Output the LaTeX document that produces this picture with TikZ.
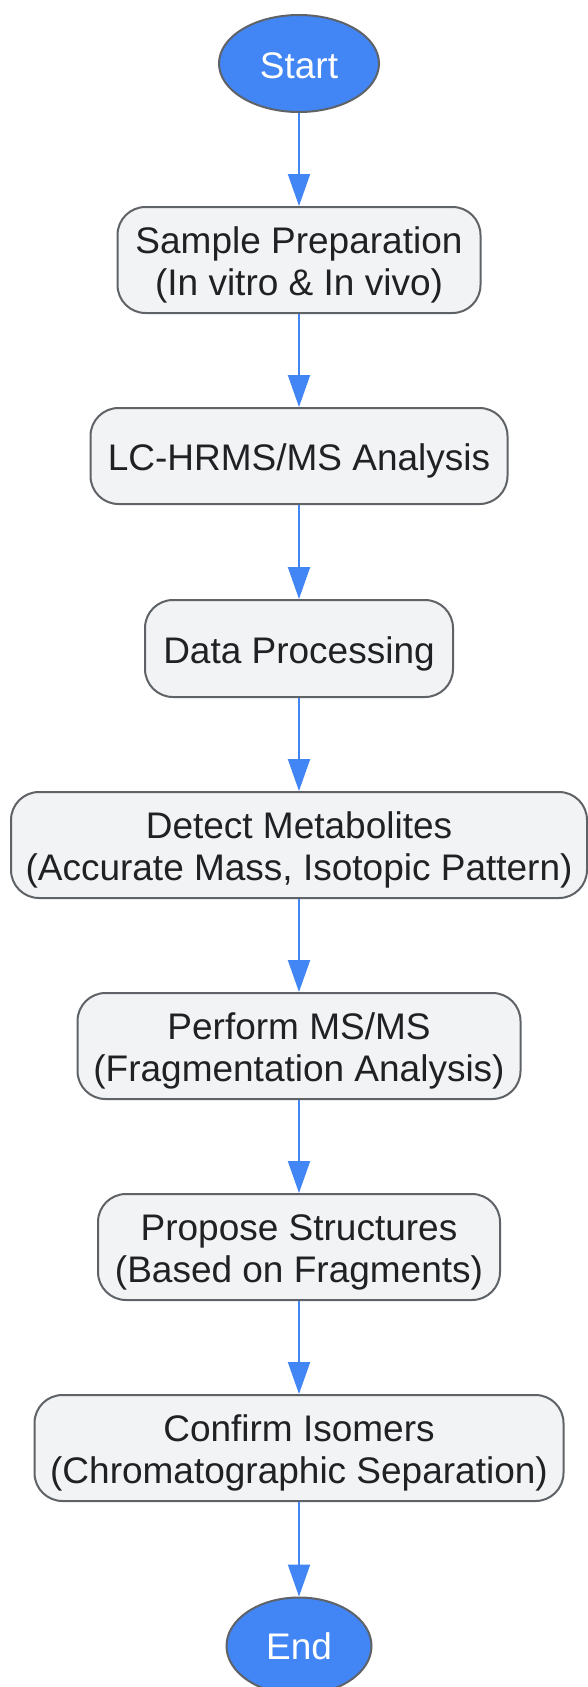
\documentclass[tikz,border=0pt]{standalone}
\usepackage{fontspec}
\setmainfont{Liberation Sans}
\usetikzlibrary{arrows.meta,shapes.geometric}
\definecolor{gblue}{HTML}{4285F4}
\definecolor{gstroke}{HTML}{5F6368}
\definecolor{gfill}{HTML}{F1F3F4}
\definecolor{gtext}{HTML}{202124}
\tikzset{
  term/.style={ellipse, draw=gstroke, line width=2pt, fill=gblue,
    inner sep=0pt},
  termtxt/.style={text=white, yshift=-2pt, inner sep=0pt,
    font=\fontsize{37}{42}\selectfont},
  stepbox/.style={rectangle, rounded corners=28pt, draw=gstroke, line width=2pt,
    fill=gfill, inner sep=0pt},
  steptxt/.style={text=gtext, yshift=-5pt, inner sep=0pt, align=center,
    font=\fontsize{37}{42}\selectfont},
  flow/.style={draw=gblue, line width=2pt, -{Triangle[length=32pt,width=22pt]}}
}
\begin{document}
\begin{tikzpicture}[x=1pt,y=-1pt]
\useasboundingbox (0,0) rectangle (588,1687);
\fill[white] (0,0) rectangle (588,1687);
\node[term, minimum width=160pt, minimum height=97pt,
  label={[termtxt]center:Start}] (start) at (299,63.5) {};
\node[stepbox, minimum width=363pt, minimum height=106pt,
  label={[steptxt]center:{Sample Preparation\\(In vitro \& In vivo)}}] (s1) at (299,260) {};
\node[stepbox, minimum width=417pt, minimum height=96pt,
  label={[steptxt]center:{LC-HRMS/MS Analysis}}] (s2) at (299,456) {};
\node[stepbox, minimum width=308pt, minimum height=97pt,
  label={[steptxt]center:{Data Processing}}] (s3) at (299,648.5) {};
\node[stepbox, minimum width=576pt, minimum height=106pt,
  label={[steptxt]center:{Detect Metabolites\\(Accurate Mass, Isotopic Pattern)}}] (s4) at (299,845) {};
\node[stepbox, minimum width=443pt, minimum height=106pt,
  label={[steptxt]center:{Perform MS/MS\\(Fragmentation Analysis)}}] (s5) at (299,1046) {};
\node[stepbox, minimum width=402pt, minimum height=106pt,
  label={[steptxt]center:{Propose Structures\\(Based on Fragments)}}] (s6) at (299,1247) {};
\node[stepbox, minimum width=529pt, minimum height=106pt,
  label={[steptxt]center:{Confirm Isomers\\(Chromatographic Separation)}}] (s7) at (299,1448) {};
\node[term, minimum width=145pt, minimum height=97pt,
  label={[termtxt,yshift=2pt]center:End}] (end) at (299,1646) {};
\draw[flow] (start) -- (s1);
\draw[flow] (s1) -- (s2);
\draw[flow] (s2) -- (s3);
\draw[flow] (s3) -- (s4);
\draw[flow] (s4) -- (s5);
\draw[flow] (s5) -- (s6);
\draw[flow] (s6) -- (s7);
\draw[flow] (s7) -- (end);
\end{tikzpicture}
\end{document}
